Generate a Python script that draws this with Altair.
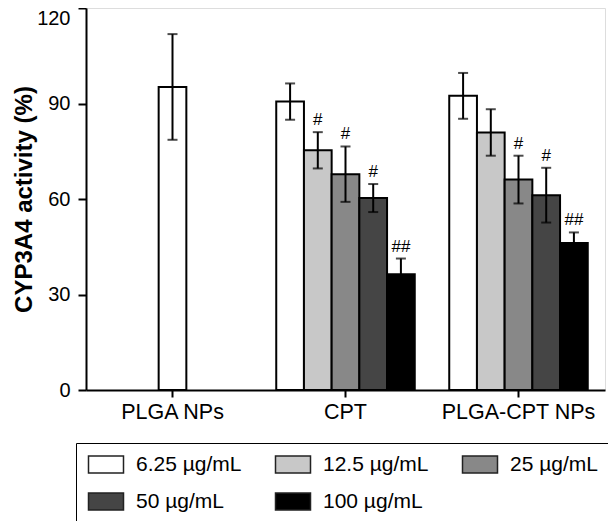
import altair as alt
import pandas as pd

# ---- data ----
groups = ["PLGA NPs", "CPT", "PLGA-CPT NPs"]
doses = ["6.25 µg/mL", "12.5 µg/mL", "25 µg/mL", "50 µg/mL", "100 µg/mL"]
colors = ["#ffffff", "#c8c8c8", "#888888", "#454545", "#000000"]

plga_mean = [95.2]
plga_sd = [16.6]
cpt_mean = [90.6, 75.3, 67.8, 60.3, 36.4]
cpt_sd = [5.7, 5.7, 8.7, 4.4, 4.9]
nps_mean = [92.4, 80.9, 66.1, 61.2, 46.2]
nps_sd = [7.2, 7.3, 7.5, 8.6, 3.3]
cpt_sig = ["", "#", "#", "#", "##"]
nps_sig = ["", "", "#", "#", "##"]

FONT = "Liberation Sans"

single = pd.DataFrame({
    "group": ["PLGA NPs"],
    "dose": [doses[0]],
    "mean": plga_mean,
    "sd": plga_sd,
})
grouped = pd.DataFrame({
    "group": ["CPT"] * 5 + ["PLGA-CPT NPs"] * 5,
    "dose": doses + doses,
    "mean": cpt_mean + nps_mean,
    "sd": cpt_sd + nps_sd,
    "sig": cpt_sig + nps_sig,
})

x_enc = alt.X(
    "group:N",
    sort=groups,
    scale=alt.Scale(domain=groups, paddingInner=0, paddingOuter=0),
    axis=alt.Axis(
        title=None, labelAngle=0, labelFont=FONT, labelFontSize=21.5,
        labelColor="black", labelPadding=4, domainColor="black", domainWidth=2,
        tickColor="black", tickWidth=2, tickSize=7,
    ),
)
xoff_enc = alt.XOffset(
    "dose:N", sort=doses,
    scale=alt.Scale(domain=doses, paddingInner=0, paddingOuter=0.6225),
)
y_scale = alt.Scale(domain=[0, 120], nice=False)
y_axis = alt.Axis(
    values=[0, 30, 60, 90, 120], grid=False,
    title="CYP3A4 activity (%)", titleFont=FONT, titleFontSize=24,
    titleFontWeight="bold", titleColor="black", titleAngle=270,
    titleBaseline="bottom", titleAlign="center", titleX=-50, titleY=191,
    labelFont=FONT, labelFontSize=20, labelColor="black", labelPadding=8,
    labelBaseline={"condition": {"test": "datum.value == 120", "value": "top"}, "value": "middle"},
    domainColor="black", domainWidth=2, tickColor="black", tickWidth=2, tickSize=8,
)
color_enc = alt.Color(
    "dose:N", sort=doses,
    scale=alt.Scale(domain=doses, range=colors),
    legend=alt.Legend(
        title=None, orient="none", legendX=-10, legendY=435,
        direction="horizontal", columns=3,
        symbolType="M-1,-0.944L2.889,-0.944L2.889,0.944L-1,0.944Z",
        symbolSize=324, symbolStrokeColor="#222222", symbolStrokeWidth=1.5,
        symbolOpacity=1, labelFont=FONT, labelFontSize=21, labelColor="black",
        labelOffset=28, columnPadding=30, rowPadding=14, padding=11,
        strokeColor="black", fillColor="white",
    ),
)

base_s = alt.Chart(single)
base_g = alt.Chart(grouped)

bars_s = base_s.mark_bar(
    width=alt.RelativeBandSize(0.16), stroke="black", strokeWidth=2
).encode(x=x_enc, y=alt.Y("mean:Q", scale=y_scale, axis=y_axis), color=color_enc)

bars_g = base_g.mark_bar(stroke="black", strokeWidth=2).encode(
    x=x_enc, xOffset=xoff_enc, y=alt.Y("mean:Q", scale=y_scale, axis=y_axis), color=color_enc
)

err_s = base_s.transform_calculate(
    lo="datum.mean - datum.sd", hi="datum.mean + datum.sd"
).mark_rule(color="black", strokeWidth=2).encode(
    x=x_enc, y=alt.Y("lo:Q", scale=y_scale), y2="hi:Q"
)
cap_s = base_s.transform_calculate(
    lo="datum.mean - datum.sd", hi="datum.mean + datum.sd"
).transform_fold(["lo", "hi"], as_=["end", "val"]).mark_tick(
    color="black", thickness=2, size=10
).encode(x=x_enc, y=alt.Y("val:Q", scale=y_scale))

err_g = base_g.transform_calculate(
    lo="datum.mean - datum.sd", hi="datum.mean + datum.sd"
).mark_rule(color="black", strokeWidth=2).encode(
    x=x_enc, xOffset=xoff_enc, y=alt.Y("lo:Q", scale=y_scale), y2="hi:Q"
)
cap_g = base_g.transform_calculate(
    lo="datum.mean - datum.sd", hi="datum.mean + datum.sd"
).transform_fold(["lo", "hi"], as_=["end", "val"]).mark_tick(
    color="black", thickness=2, size=10
).encode(x=x_enc, xOffset=xoff_enc, y=alt.Y("val:Q", scale=y_scale))

sig_g = base_g.transform_calculate(
    hi="datum.mean + datum.sd"
).mark_text(
    font=FONT, fontSize=17, color="black", baseline="bottom", dy=-3
).encode(x=x_enc, xOffset=xoff_enc, y=alt.Y("hi:Q", scale=y_scale), text="sig:N")

chart = alt.layer(bars_s, bars_g, err_s, cap_s, err_g, cap_g, sig_g).properties(
    width=519, height=382,
    padding={"left": 78, "top": 0, "right": 3, "bottom": 131},
    autosize=alt.AutoSizeParams(type="none"),
).configure_view(stroke=None).configure_legend(strokeWidth=1.5).configure(background="white")

chart.save("out.html", embed_options={"renderer": "svg", "actions": False})
